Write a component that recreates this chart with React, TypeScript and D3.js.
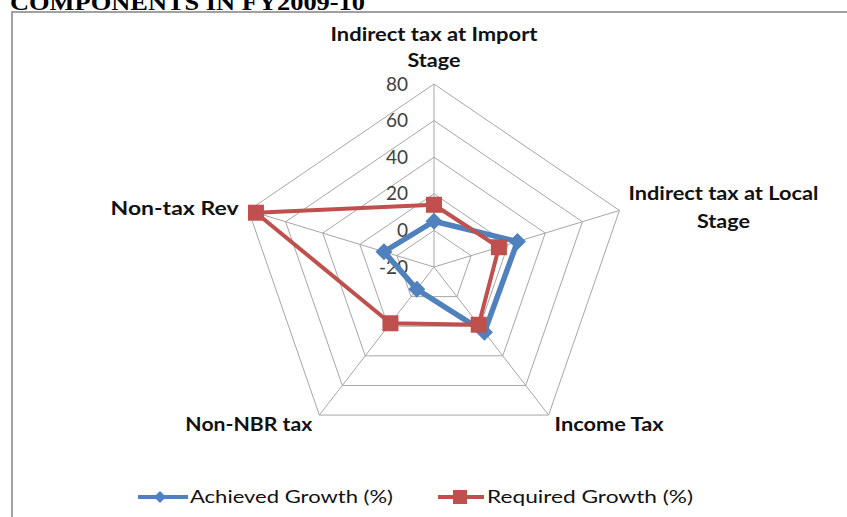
import React from "react";
import * as d3 from "d3";

const categories = [
  "Indirect tax at Import Stage",
  "Indirect tax at Local Stage",
  "Income Tax",
  "Non-NBR  tax",
  "Non-tax Rev",
];
const achieved = [5, 25, 24, -5, 7];
const required = [14, 15, 19, 18, 76];
const ticks = [-20, 0, 20, 40, 60, 80];
const seriesNames = ["Achieved Growth (%)", "Required Growth (%)"];

const W = 847;
const H = 517;
const cx = 434;
const cy = 267;
const Rx = 195;
const Ry = 183;

const BLUE = "#4F81BD";
const RED = "#C0504D";
const FONT = "Lato, 'Open Sans', sans-serif";

// label layout: lines, offset from vertex, anchor, text lengths
const labelLayout = [
  { lines: ["Indirect tax at Import", "Stage"], dx: 0, dys: [-43, -17], anchor: "middle", lens: [207, 53] },
  { lines: ["Indirect tax at Local", "Stage"], dx: 104, dys: [-10, 18], anchor: "middle", lens: [190, 53] },
  { lines: ["Income Tax"], dx: 6, dys: [16], anchor: "start", lens: [109] },
  { lines: ["Non-NBR  tax"], dx: -7, dys: [16], anchor: "end", lens: [127] },
  { lines: ["Non-tax Rev"], dx: -10, dys: [5], anchor: "end", lens: [128] },
];

export default function App() {
  const r = d3.scaleLinear().domain([ticks[0], ticks[ticks.length - 1]]).range([0, 1]);
  const angle = d3.scalePoint<string>().domain(categories).range([0, (2 * Math.PI * (categories.length - 1)) / categories.length]);

  const pt = (cat: string, v: number): [number, number] => {
    const a = angle(cat) as number;
    const k = r(v);
    return [cx + Rx * k * Math.sin(a), cy - Ry * k * Math.cos(a)];
  };

  const closed = d3.line().curve(d3.curveLinearClosed);

  const rings = ticks.slice(1).map((t) => closed(categories.map((c) => pt(c, t))) as string);
  const outer = ticks[ticks.length - 1];
  const spokes = categories.map((c) => pt(c, outer));

  const achPts = categories.map((c, i) => pt(c, achieved[i]));
  const reqPts = categories.map((c, i) => pt(c, required[i]));

  const diamond = (x: number, y: number, s: number) =>
    `M${x},${y - s}L${x + s},${y}L${x},${y + s}L${x - s},${y}Z`;

  return (
    <svg
      width={W}
      height={H}
      style={{ position: "absolute", left: 0, top: 0, background: "#fff" }}
      xmlns="http://www.w3.org/2000/svg"
    >
      <rect x={0} y={0} width={W} height={H} fill="#fff" />
      {/* cut-off heading */}
      <text
        x={10}
        y={10}
        fontFamily="'Liberation Serif', 'Times New Roman', serif"
        fontWeight="bold"
        fontSize={24}
        textLength={355}
        lengthAdjust="spacingAndGlyphs"
        fill="#000"
      >
        COMPONENTS IN FY2009-10
      </text>
      {/* chart border */}
      <rect x={12} y={12} width={900} height={600} fill="#fff" stroke="#8a8a8a" strokeWidth={1.6} />

      {/* grid */}
      {rings.map((d, i) => (
        <path key={i} d={d} fill="none" stroke="#a6a6a6" strokeWidth={1} />
      ))}
      {spokes.map(([x, y], i) => (
        <line key={i} x1={cx} y1={cy} x2={x} y2={y} stroke="#a6a6a6" strokeWidth={1} />
      ))}

      {/* tick labels */}
      {ticks.map((t) => {
        const [, y] = pt(categories[0], t);
        return (
          <text
            key={t}
            x={cx - 26}
            y={y}
            dy="0.35em"
            textAnchor="end"
            fontFamily={FONT}
            fontSize={19}
            fill="#404040"
          >
            {t}
          </text>
        );
      })}

      {/* category labels */}
      {categories.map((c, i) => {
        const [vx, vy] = pt(c, outer);
        const L = labelLayout[i];
        return L.lines.map((line, j) => (
          <text
            key={c + j}
            x={vx + L.dx}
            y={vy + L.dys[j]}
            textAnchor={L.anchor as any}
            fontFamily={FONT}
            fontWeight="bold"
            fontSize={18}
            textLength={L.lens[j]}
            lengthAdjust="spacingAndGlyphs"
            fill="#111"
          >
            {line}
          </text>
        ));
      })}

      {/* Achieved series */}
      <path d={closed(achPts) as string} fill="none" stroke={BLUE} strokeWidth={5.5} strokeLinejoin="round" />
      {achPts.map(([x, y], i) => (
        <path key={i} d={diamond(x, y, 8.5)} fill={BLUE} />
      ))}

      {/* Required series */}
      <path d={closed(reqPts) as string} fill="none" stroke={RED} strokeWidth={4} strokeLinejoin="round" />
      {reqPts.map(([x, y], i) => (
        <rect key={i} x={x - 8} y={y - 8} width={16} height={16} fill={RED} />
      ))}

      {/* legend */}
      <g>
        <line x1={138} y1={497} x2={188} y2={497} stroke={BLUE} strokeWidth={4} />
        <path d={diamond(160, 497, 6)} fill={BLUE} />
        <text x={190} y={503} fontFamily={FONT} fontSize={18} textLength={203} lengthAdjust="spacingAndGlyphs" fill="#111">
          {seriesNames[0]}
        </text>
        <line x1={438} y1={497} x2={484} y2={497} stroke={RED} strokeWidth={4} />
        <rect x={453} y={490} width={14} height={14} fill={RED} />
        <text x={487} y={503} fontFamily={FONT} fontSize={18} textLength={206} lengthAdjust="spacingAndGlyphs" fill="#111">
          {seriesNames[1]}
        </text>
      </g>
    </svg>
  );
}
